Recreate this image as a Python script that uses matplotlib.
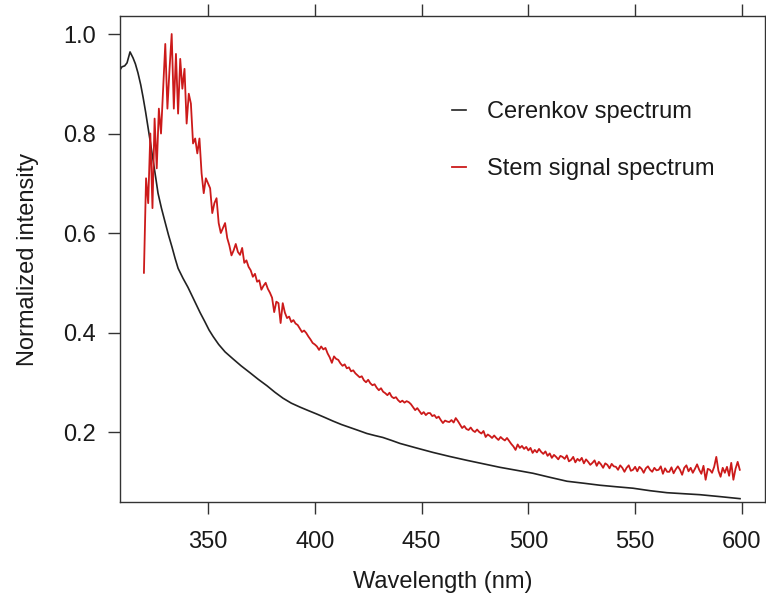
import numpy as np
import matplotlib
matplotlib.use("Agg")
import matplotlib.pyplot as plt

plt.rcParams['font.family'] = ['Liberation Sans', 'DejaVu Sans']

# Cerenkov spectrum (black)
cer_nm = [308.8, 309.7, 311.0, 312.1, 313.5, 314.9, 316.0, 317.2, 318.5, 319.6,
          320.8, 321.9, 323.1, 324.3, 325.5, 326.6, 328.2, 329.9, 331.5, 333.2,
          334.6, 336.0, 338.3, 340.6, 343.4, 346.3, 348.5, 350.5, 352.4, 355.0,
          358.0, 361.7, 365.5, 369.7, 373.5, 377.6, 381.3, 385.1, 389.0, 393.1,
          397.0, 401.0, 404.8, 408.5, 412.5, 416.5, 420.5, 424.4, 428.0, 431.9,
          436.0, 439.9, 447.5, 455.3, 463.0, 471.3, 479.0, 486.7, 494.5, 502.2,
          510.0, 518.1, 526.0, 533.5, 541.0, 549.0, 557.0, 564.9, 572.5, 580.3,
          590.0, 599.1]
cer_val = [0.928, 0.934, 0.936, 0.942, 0.964, 0.952, 0.940, 0.922, 0.898, 0.873,
           0.843, 0.813, 0.780, 0.746, 0.712, 0.680, 0.650, 0.622, 0.596, 0.571,
           0.549, 0.529, 0.509, 0.491, 0.466, 0.440, 0.422, 0.405, 0.392, 0.376,
           0.361, 0.347, 0.333, 0.319, 0.306, 0.293, 0.280, 0.268, 0.258, 0.250,
           0.243, 0.236, 0.229, 0.222, 0.215, 0.209, 0.203, 0.197, 0.193, 0.189,
           0.183, 0.177, 0.168, 0.159, 0.151, 0.143, 0.136, 0.129, 0.123, 0.117,
           0.109, 0.101, 0.097, 0.093, 0.090, 0.087, 0.082, 0.078, 0.076, 0.074,
           0.070, 0.066]

# Stem signal spectrum (red), one value per nm from 320 to 599
stem_start = 320
stem_val = [
    0.52, 0.71, 0.66, 0.80, 0.65, 0.83, 0.73, 0.85, 0.80, 0.89,
    0.98, 0.85, 0.93, 1.00, 0.85, 0.96, 0.84, 0.95, 0.89, 0.93,
    0.82, 0.88, 0.86, 0.78, 0.79, 0.76, 0.79, 0.72, 0.68, 0.71,
    0.70, 0.69, 0.64, 0.66, 0.67, 0.62, 0.60, 0.61, 0.62, 0.59,
    0.575, 0.555, 0.565, 0.578, 0.562, 0.556, 0.570, 0.540, 0.545, 0.532,
    0.525, 0.512, 0.518, 0.502, 0.505, 0.486, 0.494, 0.500, 0.488, 0.480,
    0.470, 0.441, 0.462, 0.459, 0.419, 0.459, 0.440, 0.429, 0.432, 0.421,
    0.425, 0.418, 0.415, 0.408, 0.401, 0.404, 0.399, 0.392, 0.386, 0.379,
    0.376, 0.372, 0.365, 0.372, 0.366, 0.369, 0.358, 0.350, 0.339, 0.352,
    0.347, 0.345, 0.338, 0.333, 0.336, 0.328, 0.330, 0.322, 0.324, 0.318,
    0.314, 0.310, 0.312, 0.304, 0.300, 0.305, 0.298, 0.294, 0.296, 0.289,
    0.284, 0.288, 0.281, 0.278, 0.274, 0.279, 0.271, 0.268, 0.270, 0.264,
    0.260, 0.263, 0.259, 0.262, 0.260, 0.256, 0.250, 0.244, 0.248, 0.242,
    0.236, 0.240, 0.234, 0.238, 0.238, 0.232, 0.234, 0.228, 0.231, 0.224,
    0.218, 0.223, 0.221, 0.220, 0.224, 0.219, 0.228, 0.222, 0.215, 0.208,
    0.212, 0.206, 0.204, 0.209, 0.203, 0.200, 0.205, 0.200, 0.197, 0.202,
    0.190, 0.195, 0.192, 0.188, 0.193, 0.188, 0.184, 0.190, 0.186, 0.183,
    0.188, 0.182, 0.176, 0.171, 0.164, 0.175, 0.168, 0.172, 0.166, 0.170,
    0.163, 0.168, 0.158, 0.164, 0.159, 0.166, 0.160, 0.156, 0.161, 0.152,
    0.157, 0.148, 0.154, 0.150, 0.145, 0.152, 0.150, 0.146, 0.153, 0.141,
    0.144, 0.150, 0.139, 0.146, 0.142, 0.148, 0.137, 0.145, 0.140, 0.134,
    0.138, 0.143, 0.132, 0.140, 0.135, 0.128, 0.137, 0.134, 0.127, 0.136,
    0.131, 0.130, 0.124, 0.133, 0.128, 0.120, 0.128, 0.133, 0.122, 0.124,
    0.130, 0.121, 0.130, 0.126, 0.118, 0.127, 0.131, 0.124, 0.120, 0.128,
    0.123, 0.124, 0.131, 0.116, 0.127, 0.120, 0.120, 0.129, 0.117, 0.125,
    0.131, 0.124, 0.114, 0.128, 0.133, 0.121, 0.128, 0.118, 0.126, 0.135,
    0.124, 0.116, 0.132, 0.104, 0.126, 0.124, 0.118, 0.130, 0.150, 0.122,
    0.110, 0.128, 0.118, 0.130, 0.112, 0.138, 0.104, 0.126, 0.140, 0.124,
]
stem_nm = np.arange(stem_start, stem_start + len(stem_val))

x_ticks = [350, 400, 450, 500, 550, 600]
y_ticks = [0.2, 0.4, 0.6, 0.8, 1.0]

fig = plt.figure(figsize=(7.66, 6.01), dpi=100)
ax = fig.add_axes([120/766, 1-502/601, 645/766, 486/601])

ax.plot(cer_nm, cer_val, color='#222222', lw=1.2, label='Cerenkov spectrum')
ax.plot(stem_nm, stem_val, color='#cc1a1a', lw=1.3, label='Stem signal spectrum')

ax.set_xlim(308.8, 610.8)
ax.set_ylim(0.0593, 1.0362)
ax.set_xticks(x_ticks)
ax.set_yticks(y_ticks)
ax.set_yticklabels(['%.1f' % v for v in y_ticks])

for s in ax.spines.values():
    s.set_color('#333333')
    s.set_linewidth(1.0)
ax.tick_params(direction='out', length=8.6, width=1.0, color='#333333',
               labelsize=17, labelcolor='#1a1a1a', top=True, right=True)
ax.tick_params(axis='x', pad=12)
ax.tick_params(axis='y', pad=9)

ax.set_xlabel('Wavelength (nm)', fontsize=17, color='#1a1a1a', labelpad=13)
ax.set_ylabel('Normalized intensity', fontsize=17, color='#1a1a1a', labelpad=17)

leg = ax.legend(loc='upper left', bbox_to_anchor=(452/766, 1-101/601),
                bbox_transform=fig.transFigure, frameon=False, fontsize=17,
                handlelength=0.6, handletextpad=0.9, labelspacing=1.5,
                borderpad=0, borderaxespad=0)
for t in leg.get_texts():
    t.set_color('#1a1a1a')

fig.savefig('out.png', dpi=100)
